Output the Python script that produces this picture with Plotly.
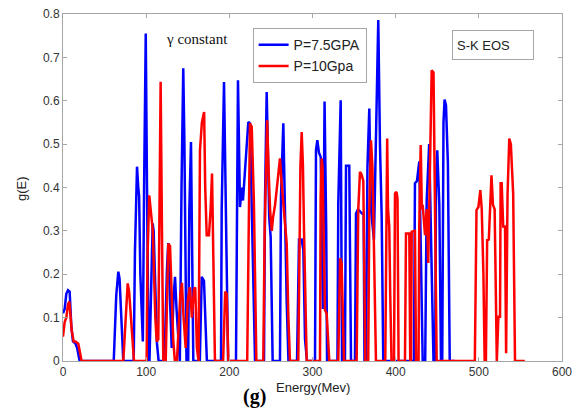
import plotly.graph_objects as go

# Energy (MeV) and g(E) for P = 7.5 GPa (blue)
energy_75 = [0, 2, 4, 6, 8, 10, 12, 15, 17, 20, 61, 64, 66.5, 68, 72.5, 85,
             86.5, 88, 89, 90.5, 91.5, 93, 96, 97.5, 99.5, 101, 103, 104,
             106, 107.8, 109, 110.5, 113, 115, 122, 125, 126.6, 128.5, 130.7,
             133, 134.7, 136.5, 139.5, 140.5, 142.5, 144.6, 146, 148.5, 150.5,
             151.9, 153.9, 156.7, 164.5, 166.8, 169.5, 173, 190, 190.8, 193.6,
             196.8, 198.5, 208, 210.4, 212.8, 214.9, 216.4, 222.8, 224.8, 226.9,
             230.9, 241.7, 242.9, 244.9, 248, 249.7, 252.1, 260.9, 262.1, 264.9,
             266.9, 269, 271.1, 281.4, 283.8, 287, 289, 291, 293.4, 303, 304.2,
             305.8, 307.8, 309.9, 312.5, 314.5, 316.5, 317.5, 330, 331, 333.9,
             335.5, 339, 340.3, 344.2, 346.3, 351.1, 352.3, 354.7, 359.5, 361.5,
             362.5, 364.3, 366.1, 368.3, 370.3, 373.9, 376.3, 379.1, 381.1,
             383.2, 385.1, 422, 423.2, 425.6, 428.4, 430, 432.5, 435.5, 437.3,
             440.3, 442.3, 444.5, 445.5, 447.5, 448.5, 450, 452.5, 454.5, 456,
             457.5, 458.8, 460.5, 462.8, 465, 471]
g_75 = [0.11, 0.12, 0.155, 0.163, 0.16, 0.08, 0.045, 0.04, 0.03, 0.0, 0.0, 0.15,
        0.206, 0.19, 0.0, 0.0, 0.25, 0.35, 0.448, 0.4, 0.38, 0.2, 0.045, 0.4,
        0.755, 0.4, 0.0, 0.0, 0.2, 0.317, 0.3, 0.2, 0.04, 0.0, 0.0, 0.21, 0.272,
        0.15, 0.03, 0.15, 0.194, 0.12, 0.02, 0.0, 0.4, 0.675, 0.5, 0.0, 0.0,
        0.348, 0.505, 0.0, 0.0, 0.194, 0.185, 0.0, 0.0, 0.348, 0.643, 0.163,
        0.0, 0.0, 0.647, 0.355, 0.40, 0.37, 0.551, 0.548, 0.35, 0.0, 0.0, 0.37,
        0.62, 0.33, 0.286, 0.0, 0.0, 0.378, 0.548, 0.3, 0.133, 0.0, 0.0, 0.28,
        0.28, 0.256, 0.05, 0.0, 0.0, 0.486, 0.509, 0.48, 0.47, 0.12, 0.598, 0.3,
        0.0, 0.0, 0.363, 0.601, 0.0, 0.0, 0.45, 0.45, 0.0, 0.0, 0.34, 0.35,
        0.34, 0.34, 0.0, 0.0, 0.45, 0.582, 0.35, 0.28, 0.5, 0.786, 0.5, 0.332,
        0.0, 0.0, 0.41, 0.415, 0.46, 0.28, 0.0, 0.0, 0.37, 0.5, 0.28, 0.12,
        0.0, 0.0, 0.4, 0.486, 0.36, 0.0, 0.0, 0.55, 0.603, 0.59, 0.455, 0.0, 0.0]

# Energy (MeV) and g(E) for P = 10 GPa (red)
energy_10 = [0, 2, 4, 6, 7.6, 9, 10.5, 12.8, 15, 18.4, 20, 22.4, 72.5, 75, 77.8,
             79.5, 85.4, 100.6, 101.5, 103.7, 106.5, 108, 111, 112.7, 114.6,
             117.4, 119, 120.6, 123.5, 126.6, 128.7, 130, 132.5, 134.5, 137, 141,
             143, 145, 147.5, 150, 152.5, 155, 157.5, 159, 161, 163, 164.7, 167,
             169.7, 171, 172.8, 175.5, 177.5, 179.2, 180.5, 182.7, 192.5, 194, 195,
             196.8, 198.8, 221.5, 222.8, 224.8, 226.9, 229.5, 232.5, 240.8, 242.5,
             245.5, 247, 249, 251, 252.5, 255, 258, 260.9, 262.5, 264.9, 267, 269,
             271, 272.9, 282.9, 284.2, 285.5, 287, 288.5, 289.8, 291.5, 293, 309,
             309.8, 311, 312, 313.3, 315, 317, 318.5, 320.2, 331, 332.2, 333.2, 335,
             336.5, 337.9, 353.1, 355, 357.1, 359, 361.1, 362.5, 363.5, 367, 368.3,
             370.3, 372, 373.1, 374.5, 376.3, 387.5, 388.4, 389.8, 390.8, 392.3,
             393.5, 395, 398, 399.2, 401, 402.2, 403.5, 411.2, 412.4, 416.4, 417.5,
             418.5, 419.3, 423.2, 424.5, 427.5, 428.3, 430.1, 431.5, 432.5, 435.3,
             437.3, 439.2, 441.3, 443.3, 445.5, 447.5, 449.3, 495.2, 497.2, 499.5,
             501.8, 503.5, 505.5, 507, 508.5, 510, 512, 515.2, 517, 519, 521.6,
             523.5, 525.5, 526.2, 527.5, 529.3, 531.5, 532.8, 534.5, 536.6, 538.5,
             541.3, 543.5, 555.3]
g_10 = [0.056, 0.09, 0.1, 0.13, 0.137, 0.1, 0.07, 0.045, 0.045, 0.04, 0.02, 0.0,
        0.0, 0.1, 0.179, 0.16, 0.0, 0.0, 0.233, 0.382, 0.325, 0.3, 0.1, 0.045,
        0.05, 0.644, 0.3, 0.0, 0.0, 0.27, 0.265, 0.2, 0.05, 0.0, 0.0, 0.15, 0.18,
        0.1, 0.03, 0.14, 0.17, 0.1, 0.165, 0.17, 0.03, 0.0, 0.486, 0.55, 0.574,
        0.4, 0.29, 0.29, 0.35, 0.432, 0.3, 0.0, 0.0, 0.12, 0.16, 0.155, 0.0, 0.0,
        0.29, 0.548, 0.54, 0.37, 0.0, 0.0, 0.3, 0.555, 0.45, 0.348, 0.3, 0.33,
        0.36, 0.41, 0.467, 0.42, 0.356, 0.3, 0.27, 0.1, 0.0, 0.0, 0.317, 0.45,
        0.528, 0.45, 0.3, 0.15, 0.0, 0.0, 0.378, 0.467, 0.45, 0.3, 0.117, 0.11,
        0.05, 0.0, 0.0, 0.2, 0.237, 0.225, 0.12, 0.0, 0.0, 0.348, 0.436, 0.43,
        0.415, 0.2, 0.0, 0.0, 0.348, 0.509, 0.45, 0.348, 0.2, 0.0, 0.0, 0.313,
        0.513, 0.35, 0.31, 0.15, 0.0, 0.0, 0.386, 0.39, 0.375, 0.0, 0.0, 0.294,
        0.294, 0.0, 0.0, 0.298, 0.3, 0.0, 0.0, 0.3, 0.498, 0.35, 0.36, 0.29, 0.35,
        0.226, 0.45, 0.67, 0.665, 0.3, 0.0, 0.0, 0.348, 0.355, 0.394, 0.35, 0.2,
        0.0, 0.0, 0.279, 0.28, 0.428, 0.36, 0.35, 0.0, 0.102, 0.102, 0.41, 0.41,
        0.31, 0.31, 0.018, 0.382, 0.513, 0.5, 0.386, 0.0, 0.0]

x_ticks = [0, 100, 200, 300, 400, 500, 600]
y_ticks = [0, 0.1, 0.2, 0.3, 0.4, 0.5, 0.6, 0.7, 0.8]

fig = go.Figure()
fig.add_trace(go.Scatter(x=energy_75, y=g_75, mode="lines", name="P=7.5GPA",
                         line=dict(color="#0000ff", width=2.5)))
fig.add_trace(go.Scatter(x=energy_10, y=g_10, mode="lines", name="P=10Gpa",
                         line=dict(color="#ff0000", width=2.5)))

axis_style = dict(showline=True, linecolor="#a6a6a6", linewidth=1, mirror="ticks",
                  ticks="inside", ticklen=4, tickcolor="#a6a6a6", showgrid=False,
                  zeroline=False, automargin=False,
                  tickfont=dict(family="Liberation Sans, Arial", size=12, color="#333333"))

fig.update_layout(
    width=581, height=415,
    margin=dict(l=63, r=19, t=14, b=54, autoexpand=False),
    paper_bgcolor="white", plot_bgcolor="white",
    font=dict(family="Liberation Sans, Arial", size=12, color="#333333"),
    xaxis=dict(range=[0, 600], tickvals=x_ticks, **axis_style),
    yaxis=dict(range=[0, 0.8], tickvals=y_ticks, **axis_style),
    legend=dict(x=0.38, y=0.959, xanchor="left", yanchor="top",
                bgcolor="white", bordercolor="#a6a6a6", borderwidth=1,
                font=dict(family="Liberation Sans, Arial", size=14, color="#222222"),
                tracegroupgap=0, itemwidth=30),
    showlegend=True,
    annotations=[
        dict(text="γ constant", xref="paper", yref="paper", x=0.2695, y=0.928,
             xanchor="center", yanchor="middle", showarrow=False,
             font=dict(family="Liberation Serif, Times New Roman", size=15, color="#111111")),
        dict(text="S-K EOS", xref="paper", yref="paper", x=0.8625, y=0.911,
             xanchor="center", yanchor="middle",
             showarrow=False, width=72, height=20, align="left", borderpad=4,
             bordercolor="#a6a6a6", borderwidth=1, bgcolor="white",
             font=dict(family="Liberation Sans, Arial", size=13, color="#222222")),
        dict(text="g(E)", xref="paper", yref="paper", x=-0.0822, y=0.4986, textangle=-90,
             xanchor="center", yanchor="middle", showarrow=False,
             font=dict(family="Liberation Sans, Arial", size=13, color="#222222")),
        dict(text="Energy(Mev)", xref="paper", yref="paper", x=0.5, y=-0.075,
             xanchor="center", yanchor="middle", showarrow=False,
             font=dict(family="Liberation Sans, Arial", size=13, color="#222222")),
        dict(text="<b>(g)</b>", xref="paper", yref="paper", x=0.383, y=-0.101,
             xanchor="center", yanchor="middle", showarrow=False,
             font=dict(family="Liberation Serif, Times New Roman", size=20, color="#000000")),
    ],
)

fig.write_html("out.html", config={"displayModeBar": False},
               post_script="document.body.style.margin='0';")
